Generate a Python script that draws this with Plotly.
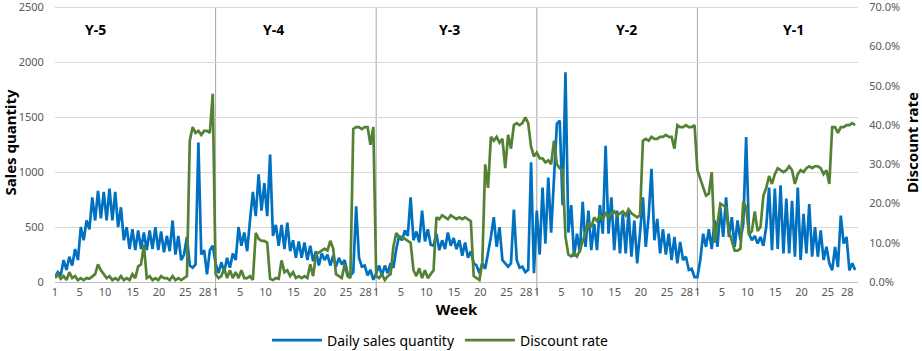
import plotly.graph_objects as go
from plotly.subplots import make_subplots

# ---------------- data ----------------
years = ["Y-5", "Y-4", "Y-3", "Y-2", "Y-1"]
week_ticks = [1, 5, 10, 15, 20, 25, 28]
days_per_year = 196          # 28 weeks
step_days = 3.5              # two readings per week

sales_y5 = [45, 90, 60, 200, 110, 230, 150, 300, 200, 500, 380, 560, 480, 770, 560, 830, 580, 820, 560, 850,
            560, 820, 500, 680, 380, 500, 300, 480, 290, 470, 300, 450, 290, 470, 300, 500, 290, 460, 270, 420,
            280, 560, 250, 420, 200, 250, 410, 150, 130, 160, 1270, 250, 290, 70, 290, 330]
sales_y4 = [170, 80, 180, 90, 220, 130, 260, 200, 500, 330, 450, 280, 560, 820, 600, 980, 650, 900, 600, 1160,
            420, 520, 330, 520, 300, 540, 280, 380, 220, 370, 220, 360, 200, 330, 190, 280, 150, 260, 200, 250,
            150, 240, 140, 220, 160, 200, 80, 60, 90, 690, 220, 140, 150, 60, 110, 20]
sales_y3 = [80, 150, 60, 150, 80, 170, 130, 300, 420, 380, 470, 420, 770, 380, 460, 360, 650, 370, 480, 340,
            330, 440, 290, 380, 300, 450, 330, 400, 300, 380, 240, 360, 220, 280, 170, 150, 80, 170, 120, 260,
            410, 590, 320, 500, 200, 170, 140, 170, 660, 200, 130, 140, 90, 110, 1090, 80]
sales_y2 = [650, 250, 860, 350, 950, 450, 1000, 1440, 1470, 700, 1910, 450, 700, 230, 440, 270, 730, 320, 650, 290,
            530, 290, 700, 440, 1240, 440, 770, 290, 650, 260, 620, 260, 650, 230, 560, 170, 450, 770, 320, 600,
            1030, 380, 575, 260, 480, 250, 440, 200, 410, 170, 365, 200, 230, 110, 120, 45]
sales_y1 = [45, 200, 440, 320, 480, 300, 560, 320, 680, 410, 770, 410, 590, 320, 560, 380, 530, 1320, 440, 380,
            420, 350, 410, 330, 500, 860, 290, 850, 300, 880, 260, 760, 260, 740, 230, 860, 200, 620, 260, 710,
            230, 500, 230, 470, 200, 320, 170, 106, 320, 136, 605, 350, 410, 106, 170, 110]

disc_y5 = [1.0, 2.0, 0.8, 1.5, 0.5, 2.5, 1.0, 1.5, 0.5, 1.0, 0.5, 1.0, 0.8, 1.5, 2.0, 4.5, 3.0, 2.0, 1.0, 1.5,
           0.5, 1.0, 0.5, 1.5, 0.5, 1.0, 0.5, 2.0, 1.0, 4.0, 4.5, 9.5, 1.0, 1.5, 0.5, 1.0, 0.5, 1.5, 1.0, 1.0,
           0.5, 1.5, 0.5, 1.0, 0.5, 1.0, 1.5, 36.0, 39.5, 38.0, 38.5, 37.5, 38.5, 38.5, 38.0, 48.0]
disc_y4 = [2.0, 1.0, 1.5, 3.5, 1.0, 3.0, 1.0, 2.5, 1.0, 3.0, 1.0, 1.0, 1.5, 0.5, 12.5, 11.0, 10.5, 10.5, 10.0, 0.8,
           0.5, 1.0, 0.8, 5.5, 2.5, 3.0, 1.5, 2.5, 1.0, 1.5, 1.0, 1.5, 1.0, 4.5, 1.5, 7.0, 7.5, 8.0, 8.5, 8.0,
           10.5, 8.5, 2.0, 1.5, 1.0, 4.5, 1.5, 1.0, 39.0, 39.5, 39.5, 39.0, 39.5, 39.5, 35.0, 39.5]
disc_y3 = [1.5, 1.0, 2.0, 0.5, 1.5, 2.0, 9.0, 12.5, 11.5, 11.5, 11.0, 10.5, 10.0, 3.0, 1.5, 3.5, 1.0, 3.0, 1.0, 2.0,
           3.0, 16.5, 16.0, 17.0, 16.5, 16.0, 17.0, 16.5, 16.0, 16.5, 16.0, 16.5, 16.0, 15.5, 1.5, 1.0, 0.5, 5.0, 30.0, 24.0,
           37.0, 36.0, 37.0, 35.5, 36.5, 29.0, 37.5, 34.0, 40.0, 40.5, 40.0, 40.5, 42.0, 40.5, 34.5, 32.0]
disc_y2 = [33.0, 31.5, 31.5, 30.5, 31.0, 30.0, 36.0, 30.0, 29.0, 28.5, 11.5, 7.0, 6.5, 7.5, 6.5, 8.0, 10.5, 13.0, 15.0, 14.0,
           16.5, 15.5, 17.0, 16.0, 17.5, 16.5, 17.5, 18.0, 17.0, 17.5, 18.0, 17.0, 18.5, 17.5, 17.0, 16.5, 17.0, 36.0, 36.5, 36.0,
           37.0, 36.5, 36.5, 37.0, 37.0, 37.5, 37.0, 37.0, 34.0, 40.0, 39.5, 39.5, 40.0, 39.5, 39.5, 40.0]
disc_y1 = [28.5, 26.5, 24.0, 22.0, 22.5, 28.0, 10.0, 15.5, 20.0, 19.5, 19.0, 13.0, 10.5, 8.0, 8.0, 8.5, 20.5, 19.0, 12.0, 13.0,
           18.0, 13.0, 14.0, 22.0, 24.0, 27.0, 25.0, 27.5, 29.0, 28.5, 28.0, 28.5, 29.5, 28.5, 25.0, 27.5, 28.5, 28.0, 29.0, 29.5,
           29.0, 29.5, 29.5, 29.0, 27.5, 28.5, 25.0, 39.5, 39.5, 38.0, 39.5, 39.5, 40.0, 40.0, 40.5, 40.0]

sales_by_year = [sales_y5, sales_y4, sales_y3, sales_y2, sales_y1]
disc_by_year = [disc_y5, disc_y4, disc_y3, disc_y2, disc_y1]

sales_ticks = [0, 500, 1000, 1500, 2000, 2500]
disc_ticks = [0, 10, 20, 30, 40, 50, 60, 70]

# ---------------- layout constants ----------------
# where the week labels sit inside each year block (in days, as drawn in the source chart)
tick_day_offsets = [0, 30, 61, 95, 127, 159, 183]
label_days = [49, 267, 481, 698, 901]
y_top = 2540

# ---------------- build series ----------------
x, sales, disc = [], [], []
for s, (sv, dv) in enumerate(zip(sales_by_year, disc_by_year)):
    for i, (a, b) in enumerate(zip(sv, dv)):
        x.append(s * days_per_year + i * step_days)
        sales.append(a)
        disc.append(b)

tickvals, ticktext = [], []
for s in range(len(years)):
    for w, off in zip(week_ticks, tick_day_offsets):
        tickvals.append(s * days_per_year + off)
        ticktext.append(str(w))

FONT = "Noto Sans"
BLUE = "#0070C0"
GREEN = "#548235"
GRID = "#d9d9d9"

fig = make_subplots(specs=[[{"secondary_y": True}]])
fig.add_trace(go.Scatter(x=x, y=sales, mode="lines", name="Daily sales quantity",
                         line=dict(color=BLUE, width=2.7)), secondary_y=False)
fig.add_trace(go.Scatter(x=x, y=disc, mode="lines", name="Discount rate",
                         line=dict(color=GREEN, width=2.7)), secondary_y=True)

fig.update_layout(
    width=922, height=351,
    margin=dict(l=55, r=64, t=3, b=69, autoexpand=False),
    paper_bgcolor="white", plot_bgcolor="white",
    font=dict(family=FONT, size=11, color="#595959"),
    legend=dict(orientation="h", x=0.48, xanchor="center", y=-0.21, yanchor="middle",
                font=dict(family=FONT, size=14, color="#000000"), itemwidth=50),
)

fig.update_xaxes(domain=[0, 1], range=[0, len(years) * days_per_year], tickmode="array",
                 tickvals=tickvals, ticktext=ticktext, tickangle=0, automargin=False,
                 showgrid=False, zeroline=False, showline=True, linecolor="#bfbfbf", linewidth=1,
                 tickfont=dict(size=11, color="#595959"), ticks="",
                 title=dict(text="<b>Week</b>", font=dict(size=15, color="#000000"), standoff=4))
fig.update_yaxes(range=[0, y_top], tickmode="array", tickvals=sales_ticks,
                 ticktext=[str(v) for v in sales_ticks], ticklabeloverflow="allow",
                 showgrid=True, gridcolor=GRID, gridwidth=1, automargin=False,
                 zeroline=False, ticks="outside", ticklen=8, tickcolor="white",
                 tickfont=dict(size=11, color="#595959"),
                 title=dict(text="<b>Sales quantity</b>", font=dict(size=15, color="#000000"), standoff=2),
                 secondary_y=False)
fig.update_yaxes(range=[0, y_top * 70 / 2500], tickmode="array", tickvals=disc_ticks,
                 ticktext=["%.1f%%" % v for v in disc_ticks], ticklabeloverflow="allow",
                 showgrid=False, zeroline=False, automargin=False,
                 ticks="outside", ticklen=8, tickcolor="white",
                 tickfont=dict(size=11, color="#595959"),
                 title=dict(text="<b>Discount rate</b>", font=dict(size=15, color="#000000"), standoff=8),
                 secondary_y=True)

# top gridline (make sure it is drawn at the top value)
fig.add_shape(type="line", xref="paper", yref="y", x0=0, x1=1, y0=sales_ticks[-1], y1=sales_ticks[-1],
              line=dict(color=GRID, width=1), layer="below")

# year separators (from the axis to the top gridline)
for s in range(1, len(years)):
    fig.add_shape(type="line", xref="x", yref="paper", x0=s * days_per_year, x1=s * days_per_year,
                  y0=-0.045, y1=2500 / y_top, line=dict(color="#a6a6a6", width=1), layer="below")

# year labels
for name, d in zip(years, label_days):
    fig.add_annotation(x=d, y=0.905, xref="x", yref="paper", text="<b>%s</b>" % name, showarrow=False,
                       font=dict(family=FONT, size=14, color="#000000"), yanchor="middle")

fig.write_html("out.html")
